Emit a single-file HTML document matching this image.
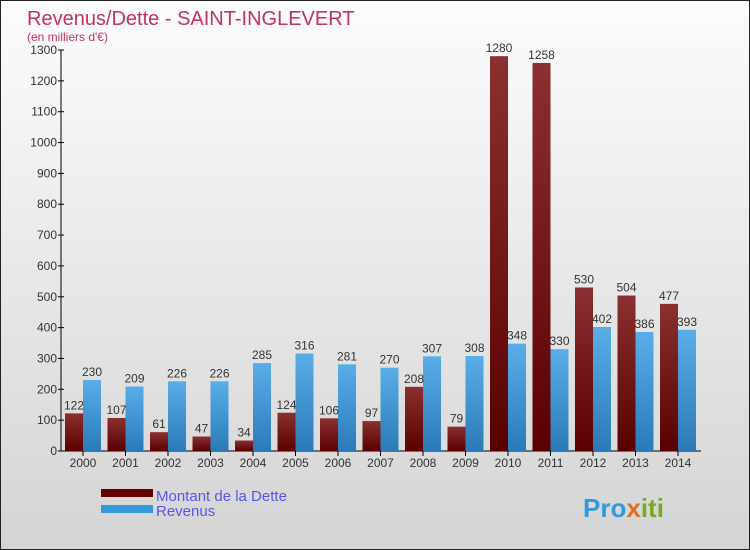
<!DOCTYPE html>
<html><head><meta charset="utf-8"><style>
body{margin:0}
#c{width:750px;height:550px;position:relative;box-sizing:border-box;border:1px solid #222;background:linear-gradient(#fcfcfc,#d4d4d4);font-family:"Liberation Sans",sans-serif;overflow:hidden}
</style></head><body>
<div id="c">
<svg id="s" width="750" height="550" style="position:absolute;left:0;top:0">
<defs>
<linearGradient id="gd" x1="0" y1="0" x2="0" y2="1"><stop offset="0" stop-color="#8a3030"/><stop offset="1" stop-color="#5a0000"/></linearGradient>
<linearGradient id="gr" x1="0" y1="0" x2="0" y2="1"><stop offset="0" stop-color="#5aaee8"/><stop offset="1" stop-color="#2a7ab8"/></linearGradient>
</defs>
<text x="26" y="24" font-size="20" fill="#c0335f">Revenus/Dette - SAINT-INGLEVERT</text>
<text x="26" y="40" font-size="12" fill="#c0335f">(en milliers d'€)</text>
<g id="g"></g>
<rect x="100" y="488" width="52" height="8" fill="#660000"/>
<rect x="100" y="504" width="52" height="8" fill="#3399dd"/>
<text x="155" y="500" font-size="15" fill="#5555ee">Montant de la Dette</text>
<text x="155" y="515" font-size="15" fill="#5555ee">Revenus</text>
<text x="582" y="516" font-size="26" font-weight="bold" fill="#3399dd">Pro<tspan fill="#e07020">x</tspan><tspan fill="#77aa22">iti</tspan></text>
</svg>
</div>
<script>
const years=["2000","2001","2002","2003","2004","2005","2006","2007","2008","2009","2010","2011","2012","2013","2014"];
const debt=[122,107,61,47,34,124,106,97,208,79,1280,1258,530,504,477];
const revenue=[230,209,226,226,285,316,281,270,307,308,348,330,402,386,393];
const yTicks=[0,100,200,300,400,500,600,700,800,900,1000,1100,1200,1300];
const NS="http://www.w3.org/2000/svg",g=document.getElementById('g');
const y0=450,sc=401/1300,x0=82,step=42.5,bw=18;
const Y=v=>y0-v*sc, X=i=>x0+i*step;
function el(t,a,txt){const e=document.createElementNS(NS,t);for(const k in a)e.setAttribute(k,a[k]);if(txt!=null)e.textContent=txt;g.appendChild(e);return e;}
let ax=el('line',{x1:60,y1:49,x2:60,y2:450,stroke:'#000'});


let xa=el('line',{x1:60,y1:450,x2:700,y2:450,stroke:'#000'});


yTicks.forEach(v=>{
 el('line',{x1:57,x2:63,y1:Y(v),y2:Y(v),stroke:'#000'});
 const t=el('text',{x:56,y:Y(v)+4,'font-size':12,'text-anchor':'end',fill:'#333'},v);
 
 
});
years.forEach((yr,i)=>{
 const cx=X(i);
 const b1=el('rect',{x:cx-bw,y:Y(debt[i]),width:bw,height:debt[i]*sc,fill:'url(#gd)'});
 
 
 const b2=el('rect',{x:cx,y:Y(revenue[i]),width:bw,height:revenue[i]*sc,fill:'url(#gr)'});
 
 
 const l1=el('text',{x:cx-bw/2,y:Y(debt[i])-4,'font-size':12,'text-anchor':'middle',fill:'#333'},debt[i]);
 
 
 const l2=el('text',{x:cx+bw/2,y:Y(revenue[i])-4,'font-size':12,'text-anchor':'middle',fill:'#333'},revenue[i]);
 
 
 el('line',{x1:cx,x2:cx,y1:450,y2:455,stroke:'#000'});
 const xl=el('text',{x:cx,y:466,'font-size':12,'text-anchor':'middle',fill:'#333'},yr);
 
 
});
</script>
</body></html>
